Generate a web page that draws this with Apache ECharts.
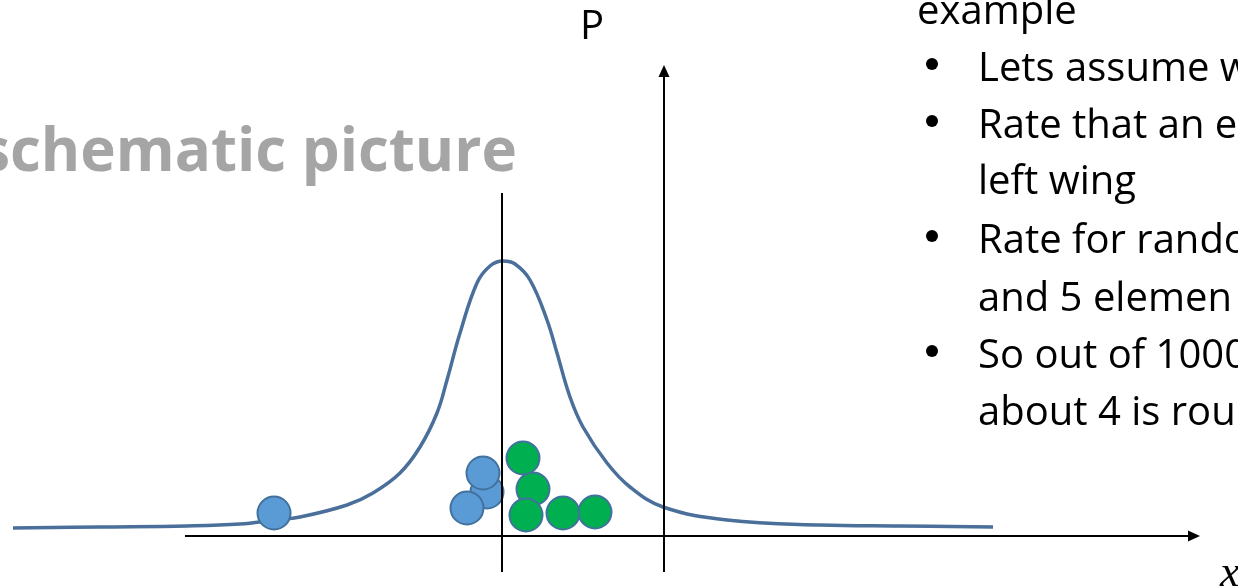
<!DOCTYPE html>
<html>
<head>
<meta charset="UTF-8">
<title>schematic picture</title>
<style>
  html, body { margin: 0; padding: 0; background: #fff; }
  #main { width: 1238px; height: 587px; }
</style>
<script src="https://cdn.jsdelivr.net/npm/echarts@6/dist/echarts.min.js"></script>
</head>
<body>
<div id="main"></div>
<script>
// bell curve (x, P)
var curveX = [-4.89, -4.02, -3.15, -2.62, -2.28, -2.02, -1.55, -1.29, -1.02, -0.82, -0.65, -0.55, -0.42, -0.25, -0.12, 0.01, 0.13, 0.28, 0.45, 0.55, 0.68, 0.81, 1.05, 1.28, 1.61, 2.25, 3.18, 3.98, 4.91];
var curveP = [0.08, 0.09, 0.10, 0.12, 0.16, 0.19, 0.31, 0.43, 0.63, 0.89, 1.23, 1.56, 2.03, 2.53, 2.70, 2.75, 2.72, 2.56, 2.16, 1.83, 1.39, 1.09, 0.73, 0.49, 0.29, 0.16, 0.11, 0.10, 0.09];

// elements (circles)
var blueX = [-2.28, -0.15, -0.19, -0.35];
var blueP = [0.23, 0.44, 0.63, 0.28];
var greenX = [0.31, 0.21, 0.24, 0.61, 0.93];
var greenP = [0.47, 0.78, 0.21, 0.23, 0.24];

// axes of the sketch
var xAxisLine = [[-3.17, 0], [6.92, 0]];
var pAxisLine = [[1.62, -0.36], [1.62, 4.65]];
var zeroLine = [[0, -0.36], [0, 3.43]];

var bulletLines = [
  [false, 'example'],
  [true, 'Lets assume w'],
  [true, 'Rate that an e'],
  [false, 'left wing'],
  [true, 'Rate for rando'],
  [false, 'and 5 elemen'],
  [true, 'So out of 1000'],
  [false, 'about 4 is rou']
];
var bulletBase = [23, 80, 137, 193, 252, 310, 367, 424];

function zip(a, b) {
  return a.map(function (v, i) { return [v, b[i]]; });
}

var chart = echarts.init(document.getElementById('main'));

var textFont = '40px "Open Sans"';
var graphics = [
  {
    type: 'text', x: 517, y: 154,
    style: { text: 'schematic picture', font: 'bold 60px "Open Sans"', fill: '#a5a5a5', align: 'right', verticalAlign: 'middle' }
  },
  {
    type: 'text', x: 580, y: 28,
    style: { text: 'P', font: textFont, fill: '#000', align: 'left', verticalAlign: 'middle' }
  },
  {
    type: 'text', x: 1220, y: 574,
    style: { text: 'x', font: 'italic 44px "Liberation Serif"', fill: '#000', align: 'left', verticalAlign: 'middle' }
  }
];
bulletLines.forEach(function (l, i) {
  var y = bulletBase[i] - 10;
  if (l[0]) {
    graphics.push({ type: 'circle', shape: { cx: 932, cy: bulletBase[i] - 16, r: 6 }, style: { fill: '#000' } });
  }
  graphics.push({ type: 'text', x: i === 0 ? 917 : 978, y: y, style: { text: l[1], font: textFont, fill: '#000', align: 'left', verticalAlign: 'middle' } });
});

function seg(a, b, arrow) {
  return [
    { coord: a, symbol: 'none' },
    { coord: b, symbol: arrow ? 'triangle' : 'none', symbolSize: [11, 12] }
  ];
}

var option = {
  animation: false,
  grid: { left: 0, right: 0, top: 0, bottom: 0 },
  xAxis: { type: 'value', min: -5.02, max: 7.36, show: false },
  yAxis: { type: 'value', min: -0.51, max: 5.36, show: false },
  graphic: graphics,
  series: [
    {
      name: 'curve',
      type: 'line',
      data: zip(curveX, curveP),
      smooth: 0.4,
      symbol: 'none',
      lineStyle: { color: '#4a6f9a', width: 3.5 },
      z: 2,
      silent: true
    },
    {
      name: 'blue',
      type: 'scatter',
      data: zip(blueX, blueP),
      symbolSize: 33,
      itemStyle: { color: '#5b9bd5', borderColor: '#41719c', borderWidth: 2, opacity: 1 },
      z: 3,
      silent: true
    },
    {
      name: 'green',
      type: 'scatter',
      data: zip(greenX, greenP),
      symbolSize: 33,
      itemStyle: { color: '#00b050', borderColor: '#41719c', borderWidth: 2, opacity: 1 },
      z: 3,
      silent: true
    },
    {
      name: 'axes',
      type: 'line',
      data: [],
      z: 5,
      silent: true,
      markLine: {
        silent: true,
        animation: false,
        label: { show: false },
        lineStyle: { color: '#000', width: 2, type: 'solid' },
        emphasis: { disabled: true },
        data: [
          seg(xAxisLine[0], xAxisLine[1], true),
          seg(pAxisLine[0], pAxisLine[1], true),
          seg(zeroLine[0], zeroLine[1], false)
        ]
      }
    }
  ]
};

chart.setOption(option);
</script>
</body>
</html>
